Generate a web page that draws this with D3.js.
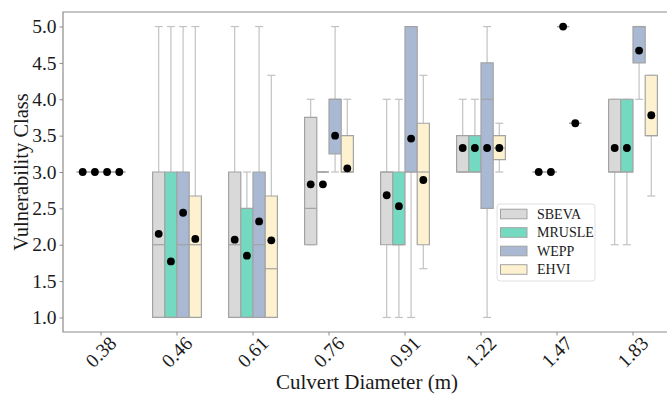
<!DOCTYPE html>
<html>
<head>
<meta charset="utf-8">
<script src="https://cdn.jsdelivr.net/npm/d3@7"></script>
<style>
  body { margin: 0; background: #fff; }
  svg { display: block; }
  svg text { font-family: "Liberation Serif", "Times New Roman", serif; }
</style>
</head>
<body>
<svg id="chart" width="667" height="395"></svg>
<script>
// culvert diameter groups
const categories = ["0.38", "0.46", "0.61", "0.76", "0.91", "1.22", "1.47", "1.83"];
const seriesNames = ["SBEVA", "MRUSLE", "WEPP", "EHVI"];
const yTicks = [1.0, 1.5, 2.0, 2.5, 3.0, 3.5, 4.0, 4.5, 5.0];

// box stats per group: [whiskerLow, q1, median, q3, whiskerHigh]
const sbevaStats = [[3, 3, 3, 3, 3], [1, 1, 2, 3, 5], [1, 1, 2, 3, 5], [2, 2, 2.5, 3.75, 4],
  [1, 2, 3, 3, 4], [3, 3, 3, 3.5, 4], [3, 3, 3, 3, 3], [2, 3, 3, 4, 4]];
const mrusleStats = [[3, 3, 3, 3, 3], [1, 1, 1, 3, 5], [1, 1, 1, 2.5, 3], [3, 3, 3, 3, 3],
  [1, 2, 2, 3, 4], [3, 3, 3, 3.5, 4], [3, 3, 3, 3, 3], [2, 3, 3, 4, 4]];
const weppStats = [[3, 3, 3, 3, 3], [1, 1, 2, 3, 5], [1, 1, 2, 3, 5], [3, 3.25, 4, 4, 5],
  [1, 3, 3, 5, 5], [1, 2.5, 4, 4.5, 5], [5, 5, 5, 5, 5], [4, 4.5, 5, 5, 5]];
const ehviStats = [[3, 3, 3, 3, 3], [1, 1, 2, 2.67, 5], [1, 1, 1.67, 2.67, 4.33], [3, 3, 3, 3.5, 4],
  [1.67, 2, 3, 3.67, 4.33], [3, 3.17, 3.33, 3.5, 3.67], [3.67, 3.67, 3.67, 3.67, 3.67], [2.67, 3.5, 3.5, 4.33, 4.33]];

// means per group
const sbevaMeans = [3.0, 2.15, 2.07, 2.83, 2.68, 3.33, 3.0, 3.33];
const mrusleMeans = [3.0, 1.77, 1.85, 2.83, 2.53, 3.33, 3.0, 3.33];
const weppMeans = [3.0, 2.44, 2.32, 3.5, 3.46, 3.33, 5.0, 4.67];
const ehviMeans = [3.0, 2.08, 2.06, 3.05, 2.89, 3.33, 3.67, 3.78];

const fills = ["#d9d9d9", "#74d9c1", "#a9b9d4", "#fdf1d0"];
const serif = "'Liberation Serif', 'Times New Roman', serif";

const series = seriesNames.map((name, i) => ({
  name,
  fill: fills[i],
  stats: [sbevaStats, mrusleStats, weppStats, ehviStats][i],
  means: [sbevaMeans, mrusleMeans, weppMeans, ehviMeans][i]
}));

const svg = d3.select("#chart");
const margin = { top: 12, left: 63, bottom: 63 };
const plotRight = 671; // plot runs past the right edge of the picture
const height = 395 - margin.top - margin.bottom;

const x = d3.scaleBand().domain(categories).range([margin.left, plotRight]).padding(0);
const inner = d3.scaleBand().domain(seriesNames).range([-24.4, 24.4]);
const y = d3.scaleLinear().domain([0.8, 5.2]).range([margin.top + height, margin.top]);

const edge = "#a3a3a3";
const whiskerColor = "#c2c2c2";
const capHalf = 4;

// boxes
const plot = svg.append("g");
series.forEach((s) => {
  categories.forEach((cat, ci) => {
    const [lo, q1, med, q3, hi] = s.stats[ci];
    const cx = x(cat) + x.bandwidth() / 2 + inner(s.name) + inner.bandwidth() / 2;
    const x0 = cx - inner.bandwidth() / 2, x1 = cx + inner.bandwidth() / 2;
    const g = plot.append("g");

    // whiskers and caps
    [[q3, hi], [q1, lo]].forEach(([from, to]) => {
      g.append("line").attr("x1", cx).attr("x2", cx)
        .attr("y1", y(from)).attr("y2", y(to))
        .attr("stroke", whiskerColor).attr("stroke-width", 1.2);
      g.append("line").attr("x1", cx - capHalf).attr("x2", cx + capHalf)
        .attr("y1", y(to)).attr("y2", y(to))
        .attr("stroke", whiskerColor).attr("stroke-width", 1.2);
    });

    // box as path so a flat box still shows as a line
    g.append("path")
      .attr("d", `M${x0},${y(q1)}H${x1}V${y(q3)}H${x0}Z`)
      .attr("fill", s.fill)
      .attr("stroke", edge)
      .attr("stroke-width", 1.2);

    g.append("line").attr("x1", x0).attr("x2", x1)
      .attr("y1", y(med)).attr("y2", y(med))
      .attr("stroke", edge).attr("stroke-width", 1.2);
  });
});

// mean markers
series.forEach((s) => {
  categories.forEach((cat, ci) => {
    const cx = x(cat) + x.bandwidth() / 2 + inner(s.name) + inner.bandwidth() / 2;
    plot.append("circle")
      .attr("cx", cx)
      .attr("cy", y(s.means[ci]))
      .attr("r", 3.9)
      .attr("fill", "#000");
  });
});

// frame
const frameColor = "#8c8c8c";
svg.append("path")
  .attr("d", `M${plotRight},${margin.top}H${margin.left}V${margin.top + height}H${plotRight}`)
  .attr("fill", "none")
  .attr("stroke", frameColor)
  .attr("stroke-width", 1.2);

// axes
const yAxis = svg.append("g")
  .attr("transform", `translate(${margin.left},0)`)
  .call(d3.axisLeft(y).tickValues(yTicks).tickFormat(d3.format(".1f")).tickSize(3.5).tickPadding(3));
yAxis.attr("font-family", serif).attr("font-size", null);
yAxis.select(".domain").remove();
yAxis.selectAll(".tick line").attr("stroke", frameColor);
yAxis.selectAll(".tick text")
  .style("font-size", "19.5px")
  .attr("fill", "#1a1a1a");

const xAxis = svg.append("g")
  .attr("transform", `translate(0,${margin.top + height})`)
  .call(d3.axisBottom(x).tickSize(3.5));
xAxis.attr("font-family", serif).attr("font-size", null);
xAxis.select(".domain").remove();
xAxis.selectAll(".tick line").attr("stroke", frameColor);
xAxis.selectAll(".tick text")
  .attr("y", 0).attr("dy", null)
  .attr("transform", "translate(0,20) rotate(-45)")
  .attr("text-anchor", "middle")
  .attr("dominant-baseline", "central")
  .style("font-size", "19.5px")
  .attr("fill", "#1a1a1a");

svg.append("text")
  .attr("x", (margin.left + plotRight) / 2)
  .attr("y", 389)
  .attr("text-anchor", "middle")
  .style("font-size", "21px")
  .attr("fill", "#1a1a1a")
  .text("Culvert Diameter (m)");

svg.append("text")
  .attr("transform", `translate(28,${margin.top + height / 2}) rotate(-90)`)
  .attr("text-anchor", "middle")
  .style("font-size", "20.5px")
  .attr("fill", "#1a1a1a")
  .text("Vulnerability Class");

// legend
const legend = svg.append("g").attr("transform", "translate(497,204)");
legend.append("rect")
  .attr("width", 98).attr("height", 77).attr("rx", 3)
  .attr("fill", "#fff").attr("fill-opacity", 0.85)
  .attr("stroke", "#e0e0e0").attr("stroke-width", 1);
series.forEach((s, i) => {
  const ly = 10 + i * 18.5;
  legend.append("rect")
    .attr("x", 3.5).attr("y", ly - 4.8)
    .attr("width", 26.5).attr("height", 9.6)
    .attr("fill", s.fill).attr("stroke", edge).attr("stroke-width", 1);
  legend.append("text")
    .attr("x", 40).attr("y", ly)
    .attr("dominant-baseline", "central")
    .style("font-size", "14px")
    .attr("fill", "#1a1a1a")
    .text(s.name);
});
</script>
</body>
</html>
